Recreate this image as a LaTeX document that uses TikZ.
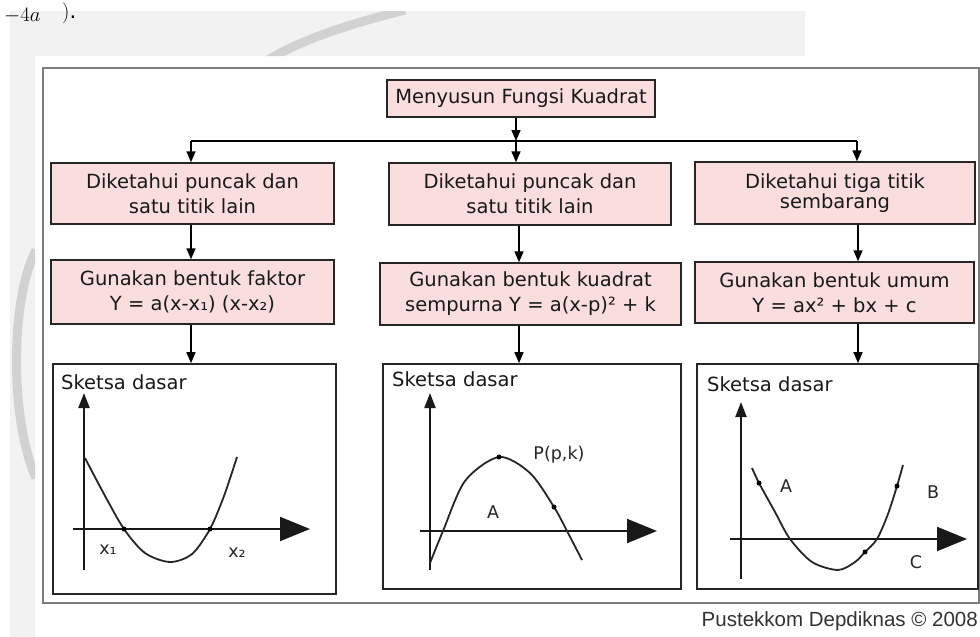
\documentclass[tikz,border=0pt]{standalone}
\usepackage{fontspec}
\setmainfont{DejaVu Sans}
\newfontfamily\libsans{Liberation Sans}
\usetikzlibrary{arrows.meta}
\definecolor{pinkfill}{RGB}{250,222,222}
\definecolor{bandgray}{RGB}{242,242,242}
\definecolor{framegray}{RGB}{125,125,125}
\definecolor{wmgray}{RGB}{210,210,210}
\begin{document}
\begin{tikzpicture}[x=1pt,y=-1pt,
  box/.style={draw=black!85, line width=1.4pt, fill=pinkfill, align=center, inner sep=0pt,
    font=\fontsize{19.5}{25}\selectfont, text=black!90},
  skbox/.style={draw=black!85, line width=1.6pt, fill=white, inner sep=0pt},
  conn/.style={draw=black, line width=1.5pt, -{Triangle[length=11pt,width=9pt]}},
  axisy/.style={draw=black!90, line width=2pt, -{Triangle[length=15pt,width=11pt]}},
  axisx/.style={draw=black!90, line width=2pt, -{Triangle[length=30pt,width=24pt]}},
  curve/.style={draw=black!85, line width=1.8pt, smooth},
  dotp/.style={circle, fill=black, inner sep=0pt, minimum size=5pt},
  lbl/.style={inner sep=0pt, font=\fontsize{17.5}{20}\selectfont, text=black!85},
  sklbl/.style={inner sep=0pt, font=\fontsize{19.5}{22}\selectfont, text=black!90, anchor=west},
]
\useasboundingbox (0,0) rectangle (980,637);
\fill[white] (0,0) rectangle (980,637);
% grey page band
\fill[bandgray] (10,11) rectangle (805,56);
\fill[bandgray] (10,11) rectangle (35,637);
\begin{scope}
  \clip (10,11) rectangle (805,56) (10,11) rectangle (35,637);
  \draw[wmgray, line width=9pt] (36,250) .. controls (10,300) and (10,420) .. (36,478);
  \draw[wmgray, line width=9pt] (268,60) .. controls (305,38) and (350,24) .. (405,10);
\end{scope}
% formula remnant above the figure
\node[anchor=base west, inner sep=0pt, font=\fontsize{22}{22}\selectfont] (frm) at (4,21) {$-4a$};
\node[anchor=base west, inner sep=0pt, font=\fontsize{21}{21}\selectfont] (par) at (62,19) {$)$.};
% outer frame
\draw[framegray, line width=1.5pt] (43,68) rectangle (979,603);
% boxes
\node[box, minimum width=268, minimum height=37] (top) at (521,98.5) {Menyusun Fungsi Kuadrat};
\node[box, minimum width=283, minimum height=61] (a1) at (192.5,193.5) {Diketahui puncak dan\\satu titik lain};
\node[box, minimum width=282, minimum height=62] (b1) at (530,194) {Diketahui puncak dan\\satu titik lain};
\node[box, minimum width=280, minimum height=62, font=\fontsize{19.5}{20}\selectfont] (c1) at (835,193) {Diketahui tiga titik\\sembarang};
\node[box, minimum width=283, minimum height=64] (a2) at (192.5,292) {Gunakan bentuk faktor\\Y = a(x-x₁) (x-x₂)};
\node[box, minimum width=301, minimum height=62] (b2) at (530.5,294) {Gunakan bentuk kuadrat\\sempurna Y = a(x-p)² + k};
\node[box, minimum width=279, minimum height=61] (c2) at (834.5,292.5) {Gunakan bentuk umum\\Y = ax² + bx + c};
\node[skbox, minimum width=283, minimum height=230] (a3) at (194.5,479) {};
\node[skbox, minimum width=298, minimum height=225] (b3) at (532,476.5) {};
\node[skbox, minimum width=281, minimum height=225] (c3) at (837.5,476.5) {};
% connectors
\coordinate (busL) at (191,141);
\coordinate (busM) at (516,141);
\coordinate (busR) at (857,141);
\coordinate (colM) at (519,0);
\coordinate (colR) at (858,0);
\draw[line width=1.5pt] (busL) -- (busR);
\draw[conn] (top.south -| busM) -- (busM);
\draw[conn] (busL) -- (busL |- a1.north);
\draw[conn] (busM) -- (busM |- b1.north);
\draw[conn] (busR) -- (busR |- c1.north);
\draw[conn] (a1.south -| busL) -- (a2.north -| busL);
\draw[conn] (a2.south -| busL) -- (a3.north -| busL);
\draw[conn] (b1.south -| colM) -- (b2.north -| colM);
\draw[conn] (b2.south -| colM) -- (b3.north -| colM);
\draw[conn] (c1.south -| colR) -- (c2.north -| colR);
\draw[conn] (c2.south -| colR) -- (c3.north -| colR);
% sketch 1
\node[sklbl] (t1) at (61,382) {Sketsa dasar};
\draw[axisy] (84,570) -- (84,393);
\draw[axisx] (73,529) -- (310,529);
\draw[curve] plot coordinates {(85,458) (104,494) (124,529) (145,553) (170,562) (192,554) (210,529) (224,496) (237,457)};
\node[dotp] at (124,529) {};
\node[dotp] at (210,529) {};
\node[lbl] (x1) at (108,550) {x₁};
\node[lbl] (x2) at (237,553) {x₂};
% sketch 2
\node[sklbl] (t2) at (392,379) {Sketsa dasar};
\draw[axisy] (430,570) -- (430,393);
\draw[axisx] (420,531) -- (657,531);
\draw[curve] plot coordinates {(430,563) (443,531) (465,481) (499,457) (530,473) (554,507) (567,531) (582,560)};
\node[dotp] at (499,457) {};
\node[dotp] at (554,507) {};
\node[lbl] (pk) at (559,455) {P(p,k)};
\node[lbl] (pa) at (493,512) {A};
% sketch 3
\node[sklbl] (t3) at (707,384) {Sketsa dasar};
\draw[axisy] (741,579) -- (741,402);
\draw[axisx] (730,539) -- (967,539);
\draw[curve] plot coordinates {(752,468) (759,483) (775,512) (790,539) (812,562) (838,570) (855,562) (865,552) (877,539) (888,514) (897,486) (903,465)};
\node[dotp] at (759,483) {};
\node[dotp] at (865,552) {};
\node[dotp] at (897,486) {};
\node[lbl] (qa) at (786,486) {A};
\node[lbl] (qb) at (933,492) {B};
\node[lbl] (qc) at (916,562) {C};
% credit
\node[anchor=east, inner sep=0pt, font=\libsans\fontsize{20.5}{24}\selectfont, text=black!80] (copy) at (978,621) {Pustekkom Depdiknas © 2008};
\end{tikzpicture}
\end{document}
